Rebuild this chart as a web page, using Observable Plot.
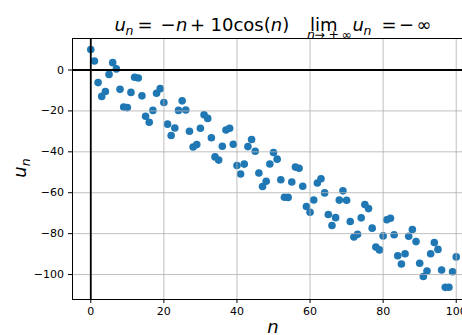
<!DOCTYPE html>
<html><head><meta charset="utf-8">
<script src="https://cdn.jsdelivr.net/npm/d3@7"></script>
<script src="https://cdn.jsdelivr.net/npm/@observablehq/plot@0.6"></script>
<style>
html,body{margin:0;padding:0;overflow:hidden;background:#fff;width:462px;height:335px}
#chart{position:relative;width:462px;height:335px;overflow:hidden}
#chart svg{max-width:none !important;width:480px;height:335px}
</style></head><body><div id="chart"></div>
<script>
const nValues = [0,1,2,3,4,5,6,7,8,9,10,11,12,13,14,15,16,17,18,19,20,21,22,23,24,25,26,27,28,29,30,31,32,33,34,35,36,37,38,39,40,41,42,43,44,45,46,47,48,49,50,51,52,53,54,55,56,57,58,59,60,61,62,63,64,65,66,67,68,69,70,71,72,73,74,75,76,77,78,79,80,81,82,83,84,85,86,87,88,89,90,91,92,93,94,95,96,97,98,99,100];
const uValues = [10.00,4.40,-6.16,-12.90,-10.54,-2.16,3.60,0.54,-9.46,-18.11,-18.39,-10.96,-3.56,-3.93,-12.63,-22.60,-25.58,-19.75,-11.40,-9.11,-15.92,-26.48,-32.00,-28.33,-19.76,-15.09,-19.53,-29.92,-37.63,-36.48,-28.46,-21.85,-23.66,-33.13,-42.49,-44.04,-37.28,-29.35,-28.45,-36.33,-46.67,-50.87,-46.00,-37.45,-34.00,-39.75,-50.32,-56.92,-54.40,-45.99,-40.35,-43.58,-53.63,-62.18,-62.29,-54.78,-47.47,-48.00,-56.81,-66.71,-69.52,-63.58,-55.27,-53.14,-60.08,-70.62,-76.00,-72.18,-63.60,-59.07,-63.67,-74.09,-81.67,-80.36,-72.28,-65.78,-67.76,-77.31,-86.58,-87.96,-81.10,-73.23,-72.50,-80.51,-90.80,-94.84,-89.84,-81.30,-78.01,-83.90,-94.48,-100.94,-98.27,-89.83,-84.31,-87.70,-97.80,-106.25,-106.19,-98.60,-91.38];
const xTicks = [0,20,40,60,80,100];
const yTicks = [0,-20,-40,-60,-80,-100];

const data = nValues.map((n,i)=>({n, u: uValues[i]}));
const FONT = "DejaVu Sans";

const plot = Plot.plot({
  width: 480, height: 335,
  marginLeft: 72, marginRight: 6, marginTop: 38, marginBottom: 36,
  style: {fontFamily: FONT, fontSize: "11px", color: "#000", background: "#fff", maxWidth: "none"},
  x: {domain: [-5, 105], ticks: xTicks, label: null},
  y: {domain: [-112.2, 15.4], ticks: yTicks, label: null},
  marks: [
    Plot.dot(data, {x: "n", y: "u", r: 3.8, fill: "#1f77b4", stroke: "none"}),
    Plot.gridX(xTicks, {stroke: "#b0b0b0", strokeOpacity: 1, strokeWidth: 0.8}),
    Plot.gridY(yTicks, {stroke: "#b0b0b0", strokeOpacity: 1, strokeWidth: 0.8}),
    Plot.ruleY([0], {stroke: "#000", strokeWidth: 1.8}),
    Plot.ruleX([0], {stroke: "#000", strokeWidth: 1.8}),
    Plot.frame({stroke: "#000", strokeWidth: 1}),
    Plot.axisX({ticks: xTicks, tickSize: 4, tickPadding: 3.5, label: null, stroke: "#000"}),
    Plot.axisY({ticks: yTicks, tickSize: 4, tickPadding: 4.5, label: null, stroke: "#000"})
  ]
});
document.getElementById("chart").appendChild(plot);

const svg = d3.select(plot);
function put(x, y, s, size, opt) {
  const o = opt || {};
  const t = svg.append("text").attr("x", x).attr("y", y)
    .attr("font-family", FONT).attr("font-size", size).attr("fill", "#000")
    .attr("text-anchor", o.anchor || "start").text(s);
  if (o.it) t.attr("font-style", "italic");
  return t;
}
// Title, left formula
const TS = 18, BY = 31;
put(114.5, BY, "u", TS, {it: 1});
put(125.5, BY + 4, "n", 12.5, {it: 1});
put(137.5, BY, "=", TS);
put(160.5, BY, "−", TS);
put(176, BY, "n", TS, {it: 1});
put(190, BY, "+", TS);
{
  const t = put(210.5, BY, "10cos(", TS);
  t.append("tspan").text("n").attr("font-style", "italic");
  t.append("tspan").text(")");
}
// Title, limit
put(310, BY, "lim", TS);
put(307, 38.5, "n", 12.5, {it: 1});
put(314.5, 38.5, "→", 12.5);
put(328.5, 38.5, "+", 12.5);
put(341.5, 38.5, "∞", 12.5);
put(352.5, BY, "u", TS, {it: 1});
put(363.5, BY + 4, "n", 12.5, {it: 1});
put(381.5, BY, "=", TS);
put(399, BY, "−", TS);
put(416.5, BY, "∞", TS);
// Axis labels
put(273, 333, "n", 18, {it: 1, anchor: "middle"});
const yl = svg.append("g").attr("transform", "translate(25.5,168) rotate(-90)");
{
  const t = yl.append("text").attr("text-anchor","middle").attr("font-family",FONT).attr("font-size",18);
  t.append("tspan").text("u").attr("font-style","italic");
  t.append("tspan").text("n").attr("font-style","italic").attr("font-size",12.5).attr("dy",4);
}
</script></body></html>
